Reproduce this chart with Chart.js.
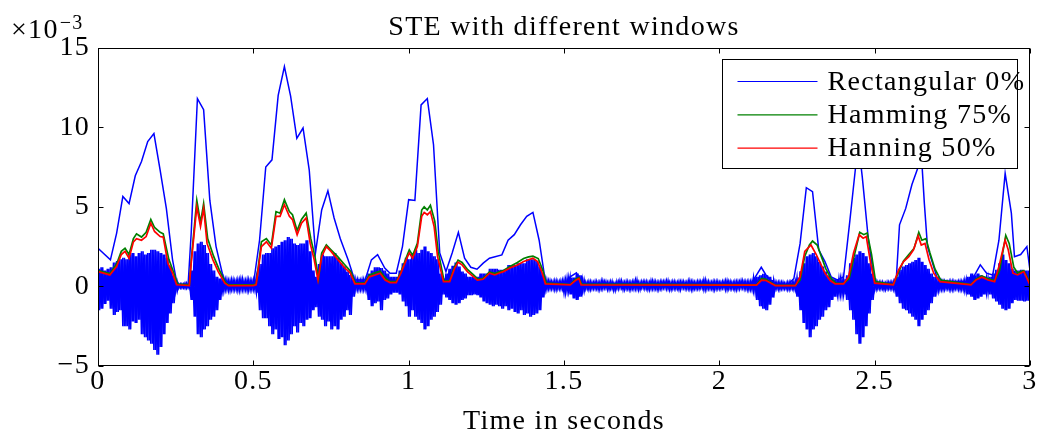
<!DOCTYPE html>
<html lang="en">
<head>
<meta charset="UTF-8">
<title>STE with different windows</title>
<script src="https://cdn.jsdelivr.net/npm/chart.js@4.4.1/dist/chart.umd.min.js"></script>
<style>
body { margin: 0; background: #fff; }
</style>
</head>
<body>
<canvas id="chart" width="1039" height="432"></canvas>
<script type="text/javascript">

// x axis ticks (seconds) and y ticks (x 10^-3)
const xTicks = [0, 0.5, 1, 1.5, 2, 2.5, 3];
const yTicks = [-5, 0, 5, 10, 15];
const seriesNames = ['Rectangular 0%', 'Hamming 75%', 'Hanning 50%'];

// STE, rectangular window, 0% overlap
const rectT = [0, 0.04, 0.06, 0.08, 0.10, 0.12, 0.14, 0.16, 0.18, 0.20, 0.22, 0.24, 0.255, 0.29, 0.30, 0.32, 0.34, 0.36, 0.38, 0.40,
  0.41, 0.50, 0.52, 0.54, 0.56, 0.58, 0.60, 0.62, 0.64, 0.66, 0.68, 0.70, 0.72, 0.74, 0.76, 0.78, 0.805, 0.826, 0.86, 0.88,
  0.90, 0.923, 0.94, 0.96, 0.98, 1.00, 1.02, 1.04, 1.06, 1.08, 1.10, 1.12, 1.14, 1.16, 1.18, 1.20, 1.22, 1.24, 1.26, 1.30,
  1.32, 1.34, 1.36, 1.38, 1.40, 1.42, 1.44, 1.51, 1.52, 1.54, 1.555, 2.10, 2.12, 2.135, 2.15, 2.18, 2.22, 2.24, 2.26, 2.28,
  2.30, 2.32, 2.34, 2.36, 2.38, 2.40, 2.42, 2.44, 2.45, 2.46, 2.48, 2.50, 2.56, 2.57, 2.58, 2.60, 2.62, 2.64, 2.65, 2.66,
  2.67, 2.70, 2.72, 2.81, 2.84, 2.86, 2.88, 2.90, 2.92, 2.94, 2.95, 2.97, 2.99, 3.00];
const rectV = [2.4, 1.67, 3.35, 5.65, 5.2, 6.95, 7.85, 9.1, 9.6, 7.3, 4.9, 1.67, 0.1, 0.1, 3.35, 11.8, 11.1, 5.4, 2.5, 0.83,
  0.2, 0.1, 2.9, 7.5, 7.95, 12.0, 13.8, 11.95, 9.3, 9.95, 7.3, 2.1, 4.8, 6.0, 4.3, 3.0, 1.67, 0.4, 0.4, 1.67,
  2.0, 1.15, 0.83, 0.83, 2.5, 5.45, 5.4, 11.4, 11.8, 8.9, 2.1, 0.93, 2.1, 3.4, 1.77, 1.2, 1.08, 1.46, 1.77, 1.98,
  2.9, 3.25, 3.87, 4.4, 4.65, 2.9, 0.3, 0.15, 0.6, 0.85, 0.2, 0.1, 0.72, 1.2, 0.72, 0.1, 0.1, 0.5, 2.7, 6.2,
  5.95, 2.3, 1.56, 0.6, 0.4, 0.6, 4.1, 7.75, 8.6, 6.9, 2.9, 0.2, 0.2, 0.6, 3.87, 4.9, 6.4, 7.5, 8.4, 5.2,
  2.5, 0.6, 0.3, 0.3, 1.35, 0.83, 0.72, 2.9, 7.1, 4.6, 1.87, 2.0, 2.5, 1.0];

// STE, Hamming window, 75% overlap
const hamT = [0, 0.038, 0.06, 0.075, 0.087, 0.10, 0.114, 0.124, 0.14, 0.155, 0.17, 0.182, 0.20, 0.21, 0.228, 0.243, 0.256, 0.294, 0.30, 0.318,
  0.33, 0.34, 0.353, 0.372, 0.39, 0.41, 0.42, 0.50, 0.509, 0.526, 0.542, 0.558, 0.573, 0.586, 0.60, 0.616, 0.626, 0.641, 0.655, 0.67,
  0.685, 0.698, 0.71, 0.72, 0.735, 0.75, 0.77, 0.797, 0.813, 0.829, 0.859, 0.873, 0.892, 0.908, 0.926, 0.94, 0.96, 0.975, 0.992, 1.002,
  1.013, 1.028, 1.042, 1.05, 1.06, 1.07, 1.084, 1.095, 1.114, 1.132, 1.147, 1.159, 1.172, 1.19, 1.207, 1.223, 1.24, 1.26, 1.277, 1.29,
  1.305, 1.326, 1.35, 1.37, 1.386, 1.40, 1.417, 1.432, 1.443, 1.52, 1.537, 1.548, 1.557, 2.12, 2.136, 2.15, 2.18, 2.245, 2.26, 2.275,
  2.29, 2.30, 2.315, 2.328, 2.343, 2.36, 2.375, 2.40, 2.418, 2.434, 2.452, 2.465, 2.476, 2.49, 2.503, 2.56, 2.577, 2.593, 2.61, 2.627,
  2.642, 2.652, 2.665, 2.678, 2.694, 2.713, 2.81, 2.826, 2.845, 2.865, 2.886, 2.902, 2.922, 2.933, 2.948, 2.96, 2.98, 3.00];
const hamV = [1.0, 0.8, 1.4, 2.2, 2.4, 2.0, 3.0, 3.3, 3.1, 3.4, 4.2, 3.7, 3.4, 3.3, 1.7, 0.9, 0.15, 0.1, 1.6, 5.4,
  4.0, 5.2, 3.0, 1.9, 1.05, 0.25, 0.1, 0.1, 0.15, 2.8, 3.0, 2.6, 4.7, 4.6, 5.45, 4.7, 4.5, 3.5, 4.2, 4.6,
  3.0, 1.9, 0.5, 2.1, 2.6, 2.3, 1.9, 1.3, 0.95, 0.2, 0.2, 0.7, 0.85, 0.95, 0.5, 0.3, 0.3, 0.9, 1.8, 2.3,
  1.95, 2.7, 4.8, 5.0, 4.8, 5.1, 4.1, 2.2, 0.35, 0.35, 1.2, 1.65, 1.5, 1.05, 0.75, 0.45, 0.5, 0.9, 0.8, 0.9,
  1.0, 1.25, 1.5, 1.75, 1.85, 1.9, 1.75, 1.0, 0.2, 0.12, 0.45, 0.55, 0.15, 0.1, 0.5, 0.45, 0.07, 0.07, 0.4, 1.9,
  2.6, 2.85, 2.6, 1.9, 1.1, 0.5, 0.2, 0.18, 0.5, 1.9, 3.4, 3.25, 3.35, 2.0, 0.3, 0.12, 0.9, 1.6, 2.0, 2.4,
  3.4, 2.9, 3.0, 2.1, 1.1, 0.4, 0.12, 0.45, 0.65, 0.5, 0.35, 1.0, 3.2, 2.7, 1.2, 0.85, 1.0, 0.2];

// STE, Hanning window, 50% overlap
const hanT = [0, 0.038, 0.06, 0.075, 0.087, 0.10, 0.114, 0.124, 0.14, 0.155, 0.17, 0.182, 0.20, 0.21, 0.225, 0.24, 0.253, 0.294, 0.30, 0.318,
  0.33, 0.34, 0.351, 0.37, 0.387, 0.408, 0.42, 0.50, 0.509, 0.526, 0.542, 0.558, 0.573, 0.586, 0.60, 0.616, 0.626, 0.641, 0.655, 0.67,
  0.683, 0.696, 0.708, 0.72, 0.735, 0.75, 0.768, 0.795, 0.811, 0.827, 0.859, 0.873, 0.892, 0.908, 0.924, 0.94, 0.96, 0.975, 0.992, 1.002,
  1.013, 1.028, 1.042, 1.05, 1.06, 1.07, 1.082, 1.093, 1.112, 1.132, 1.147, 1.159, 1.172, 1.189, 1.205, 1.221, 1.24, 1.26, 1.277, 1.29,
  1.305, 1.326, 1.35, 1.37, 1.386, 1.40, 1.415, 1.43, 1.44, 1.52, 1.537, 1.548, 1.555, 2.12, 2.136, 2.15, 2.18, 2.245, 2.26, 2.275,
  2.295, 2.312, 2.325, 2.34, 2.357, 2.373, 2.40, 2.416, 2.432, 2.45, 2.463, 2.473, 2.487, 2.50, 2.56, 2.577, 2.593, 2.61, 2.625, 2.64,
  2.65, 2.662, 2.675, 2.69, 2.71, 2.81, 2.826, 2.845, 2.865, 2.886, 2.90, 2.92, 2.93, 2.945, 2.96, 2.98, 3.00];
const hanV = [0.93, 0.72, 1.25, 2.0, 2.2, 1.77, 2.8, 3.0, 2.9, 3.13, 3.97, 3.45, 3.13, 3.1, 1.46, 0.83, 0.1, 0.05, 1.46, 5.0,
  3.76, 4.9, 2.7, 1.67, 0.93, 0.2, 0.05, 0.05, 0.1, 2.5, 2.8, 2.4, 4.4, 4.4, 5.13, 4.4, 4.2, 3.24, 3.97, 4.3,
  2.7, 1.67, 0.4, 1.87, 2.5, 2.2, 1.77, 1.15, 0.87, 0.16, 0.16, 0.6, 0.72, 0.83, 0.4, 0.24, 0.24, 0.83, 1.67, 2.1,
  1.77, 2.5, 4.4, 4.65, 4.5, 4.7, 3.76, 1.87, 0.3, 0.3, 1.08, 1.52, 1.35, 0.93, 0.66, 0.4, 0.45, 0.83, 0.72, 0.83,
  0.93, 1.15, 1.35, 1.56, 1.67, 1.77, 1.56, 0.83, 0.16, 0.1, 0.37, 0.5, 0.1, 0.08, 0.4, 0.37, 0.05, 0.05, 0.6, 2.2,
  2.6, 2.0, 1.46, 0.83, 0.37, 0.16, 0.16, 0.6, 2.1, 3.24, 3.03, 3.13, 1.46, 0.2, 0.1, 1.04, 1.56, 1.87, 2.3, 3.17,
  2.6, 2.7, 1.67, 0.83, 0.3, 0.1, 0.4, 0.58, 0.4, 0.3, 1.25, 2.9, 2.3, 0.83, 0.72, 0.93, 0.1];

// speech signal, max / min per 10 ms (x 10^-3)
const waveStep = 0.01;
const waveMax = [
  1.1, 1.2, 1.0, 1.1, 1.2, 1.5, 1.6, 1.7, 1.8, 1.7,
  2.0, 2.1, 1.9, 2.1, 2.2, 2.0, 2.1, 2.3, 2.3, 2.2,
  2.1, 2.0, 1.8, 1.3, 0.7, 0.3, 0.15, 0.15, 0.2, 0.15,
  1.0, 2.2, 2.7, 2.8, 2.6, 2.1, 1.4, 1.0, 0.6, 0.5,
  0.45, 0.4, 0.35, 0.4, 0.35, 0.4, 0.45, 0.35, 0.4, 0.35,
  0.4, 0.6, 1.4, 2.0, 2.1, 2.1, 2.4, 2.5, 2.6, 2.8,
  2.9, 3.1, 3.0, 2.7, 2.6, 2.7, 2.7, 2.9, 2.2, 1.0,
  0.6, 1.4, 2.0, 1.9, 1.9, 1.9, 2.1, 1.8, 1.45, 1.25,
  0.93, 0.72, 0.4, 0.4, 0.35, 0.4, 0.4, 0.8, 1.0, 1.2,
  1.2, 1.15, 1.0, 0.8, 0.6, 0.6, 0.6, 1.0, 1.45, 1.8,
  1.7, 2.1, 2.3, 2.1, 2.3, 2.5, 2.2, 2.1, 1.9, 1.7,
  0.8, 0.5, 0.8, 1.1, 1.3, 1.5, 1.25, 0.93, 0.8, 0.6,
  0.6, 0.55, 0.6, 0.8, 0.8, 0.8, 1.1, 1.1, 1.1, 1.05,
  1.05, 1.05, 1.35, 1.35, 1.35, 1.45, 1.45, 1.45, 1.7, 1.7,
  1.7, 1.6, 1.25, 0.7, 0.4, 0.35, 0.3, 0.35, 0.3, 0.35,
  0.4, 0.5, 0.55, 0.55, 0.8, 0.7, 0.4, 0.25, 0.3, 0.25,
  0.3, 0.25, 0.35, 0.3, 0.25, 0.3, 0.2, 0.3, 0.35, 0.25,
  0.3, 0.25, 0.3, 0.4, 0.25, 0.3, 0.3, 0.25, 0.35, 0.3,
  0.25, 0.3, 0.3, 0.35, 0.25, 0.3, 0.25, 0.3, 0.3, 0.25,
  0.35, 0.3, 0.25, 0.3, 0.3, 0.4, 0.3, 0.25, 0.3, 0.3,
  0.25, 0.3, 0.35, 0.3, 0.25, 0.3, 0.3, 0.35, 0.3, 0.3,
  0.3, 0.55, 0.6, 0.7, 0.8, 0.7, 0.6, 0.4, 0.25, 0.25,
  0.25, 0.2, 0.25, 0.25, 0.3, 0.55, 0.95, 1.45, 1.9, 2.0,
  2.1, 1.9, 1.55, 1.25, 0.93, 0.7, 0.5, 0.45, 0.45, 0.45,
  0.45, 0.7, 1.45, 1.8, 2.0, 2.2, 2.1, 1.9, 1.45, 0.8,
  0.3, 0.25, 0.25, 0.2, 0.25, 0.25, 0.3, 0.6, 1.05, 1.25,
  1.35, 1.45, 1.55, 1.65, 1.8, 1.55, 1.35, 1.1, 0.8, 0.6,
  0.4, 0.3, 0.3, 0.25, 0.3, 0.3, 0.25, 0.3, 0.3, 0.4,
  0.6, 0.8, 0.7, 0.8, 0.7, 0.6, 0.5, 0.6, 0.8, 1.05,
  1.45, 2.0, 1.65, 1.45, 1.1, 1.0, 1.0, 1.05, 1.0, 1.0,
  1.0];
const waveMin = [
  -1.5, -1.4, -1.1, -0.9, -1.4, -1.8, -1.6, -1.5, -2.5, -2.5,
  -2.7, -2.2, -2.3, -2.1, -3.0, -3.2, -3.4, -3.6, -4.0, -4.3,
  -3.8, -3.0, -2.3, -1.7, -1.05, -0.3, -0.1, -0.1, -0.12, -0.1,
  -0.85, -1.9, -3.0, -3.2, -2.7, -2.5, -2.1, -1.9, -1.5, -0.85,
  -0.3, -0.2, -0.25, -0.2, -0.2, -0.25, -0.2, -0.2, -0.25, -0.2,
  -0.2, -0.4, -1.5, -2.0, -2.0, -2.5, -3.0, -2.7, -3.3, -3.2,
  -3.7, -3.4, -3.0, -2.5, -2.9, -2.3, -2.5, -2.1, -2.0, -1.5,
  -1.3, -1.9, -2.1, -2.5, -2.2, -2.7, -2.5, -2.7, -2.1, -1.9,
  -1.5, -1.8, -0.65, -0.2, -0.2, -0.2, -0.2, -0.85, -1.25, -1.05,
  -0.95, -1.5, -0.85, -0.75, -0.5, -0.4, -0.4, -0.5, -0.95, -1.25,
  -1.9, -1.5, -1.9, -2.1, -2.3, -2.7, -2.5, -2.1, -1.9, -1.6,
  -1.15, -0.5, -0.7, -0.85, -1.05, -1.15, -1.05, -0.85, -0.75, -0.55,
  -0.55, -0.5, -0.55, -0.7, -0.95, -1.05, -1.15, -1.25, -1.15, -1.25,
  -1.4, -1.25, -1.5, -1.4, -1.6, -1.7, -1.5, -1.8, -1.7, -1.9,
  -1.8, -1.7, -1.5, -0.7, -0.2, -0.15, -0.15, -0.2, -0.15, -0.15,
  -0.4, -0.3, -0.5, -0.75, -0.85, -0.65, -0.3, -0.15, -0.2, -0.15,
  -0.15, -0.2, -0.15, -0.1, -0.2, -0.15, -0.25, -0.15, -0.1, -0.2,
  -0.15, -0.2, -0.15, -0.15, -0.2, -0.1, -0.15, -0.2, -0.15, -0.15,
  -0.2, -0.15, -0.1, -0.15, -0.2, -0.15, -0.15, -0.2, -0.1, -0.15,
  -0.15, -0.2, -0.15, -0.15, -0.1, -0.2, -0.15, -0.15, -0.2, -0.15,
  -0.15, -0.1, -0.2, -0.15, -0.15, -0.2, -0.15, -0.1, -0.15, -0.2,
  -0.2, -0.3, -0.85, -1.25, -1.4, -1.5, -1.15, -0.7, -0.15, -0.2,
  -0.15, -0.15, -0.2, -0.15, -0.2, -0.65, -1.5, -2.3, -2.7, -3.2,
  -2.7, -2.5, -2.1, -1.9, -1.5, -1.3, -0.85, -0.65, -0.5, -0.5,
  -0.5, -0.85, -1.5, -2.1, -3.0, -3.6, -3.2, -2.5, -1.7, -0.85,
  -0.2, -0.15, -0.15, -0.2, -0.15, -0.15, -0.2, -0.65, -1.05, -1.4,
  -1.5, -1.7, -1.9, -2.1, -2.5, -2.1, -1.8, -1.5, -1.05, -0.65,
  -0.3, -0.2, -0.2, -0.15, -0.2, -0.2, -0.15, -0.2, -0.2, -0.3,
  -0.5, -0.65, -0.85, -0.75, -0.65, -0.5, -0.4, -0.5, -0.75, -0.95,
  -1.15, -1.4, -1.5, -1.4, -1.05, -0.85, -0.9, -0.9, -0.95, -0.9,
  -0.9];

const FONT = "'Liberation Serif', 'Times New Roman', serif";
const SPACING = '1.3px';

function pairs(t, v) {
    return t.map((x, i) => ({x: x, y: v[i]}));
}

// trace swinging between the max and the min of each bin;
// phase 0 starts each bin at its max, phase 1 at its min
function swing(phase) {
    const out = [];
    waveMax.forEach((m, i) => {
        const a = phase ? waveMin[i] : m;
        const b = phase ? m : waveMin[i];
        out.push({x: i * waveStep, y: a});
        out.push({x: i * waveStep + waveStep / 2, y: b});
    });
    return out;
}

function minus(v) {
    return v < 0 ? '\u2212' + Math.abs(v) : String(v);
}

// box around the axes with inward ticks, matlab style
const boxPlugin = {
    id: 'box',
    beforeDraw(chart) {
        // computer modern is wider than liberation serif
        chart.ctx.letterSpacing = SPACING;
    },
    afterDatasetsDraw(chart) {
        const ctx = chart.ctx, a = chart.chartArea;
        const sx = chart.scales.x, sy = chart.scales.y;
        const L = Math.round(a.left) + 0.5, R = Math.round(a.right) - 0.5;
        const T = Math.round(a.top) + 0.5, B = Math.round(a.bottom) - 0.5;
        ctx.save();
        ctx.strokeStyle = '#000';
        ctx.lineWidth = 1;
        ctx.strokeRect(L, T, R - L, B - T);
        ctx.beginPath();
        xTicks.forEach(v => {
            const px = Math.round(sx.getPixelForValue(v)) + 0.5;
            ctx.moveTo(px, B); ctx.lineTo(px, B - 5);
            ctx.moveTo(px, T); ctx.lineTo(px, T + 5);
        });
        yTicks.forEach(v => {
            const py = Math.round(sy.getPixelForValue(v)) + 0.5;
            ctx.moveTo(L, py); ctx.lineTo(L + 5, py);
            ctx.moveTo(R, py); ctx.lineTo(R - 5, py);
        });
        ctx.stroke();
        ctx.restore();
    },
    afterDraw(chart) {
        const ctx = chart.ctx, a = chart.chartArea;
        ctx.save();
        ctx.letterSpacing = SPACING;
        // exponent of the y axis
        ctx.fillStyle = '#000';
        ctx.textBaseline = 'alphabetic';
        ctx.textAlign = 'left';
        ctx.font = '28px ' + FONT;
        ctx.fillText('\u00d710', 11, 38);
        const w = ctx.measureText('\u00d710').width;
        ctx.font = '20px ' + FONT;
        ctx.fillText('\u22123', 11 + w + 1, 29);

        // legend box, upper right inside the axes
        const bx = Math.round(a.right) - 308 + 0.5, by = Math.round(a.top) + 11 + 0.5;
        const bw = 295, bh = 109;
        ctx.fillStyle = '#fff';
        ctx.fillRect(bx, by, bw, bh);
        ctx.strokeStyle = '#000';
        ctx.lineWidth = 1;
        ctx.strokeRect(bx, by, bw, bh);
        const colors = ['#0000ff', '#008000', '#ff0000'];
        ctx.font = '28px ' + FONT;
        ctx.textBaseline = 'middle';
        seriesNames.forEach((name, i) => {
            const y = by + 22 + i * 33.3;
            ctx.strokeStyle = colors[i];
            ctx.lineWidth = 1.2;
            ctx.beginPath();
            ctx.moveTo(bx + 15, y);
            ctx.lineTo(bx + 95, y);
            ctx.stroke();
            ctx.fillStyle = '#000';
            ctx.fillText(name, bx + 105, y + 1);
        });
        ctx.restore();
    }
};

const config = {
    type: 'line',
    data: {
        datasets: [
            {label: seriesNames[2], data: pairs(hanT, hanV), borderColor: '#ff0000', borderWidth: 1.7},
            {label: seriesNames[1], data: pairs(hamT, hamV), borderColor: '#008000', borderWidth: 1.7},
            {label: seriesNames[0], data: pairs(rectT, rectV), borderColor: '#0000ff', borderWidth: 1.5},
            {label: 'signal a', data: swing(0), borderColor: '#0000ff', borderWidth: 1.6,
             fill: 'origin', backgroundColor: '#0000ff'},
            {label: 'signal b', data: swing(1), borderColor: '#0000ff', borderWidth: 1.6,
             fill: 'origin', backgroundColor: '#0000ff'}
        ]
    },
    options: {
        responsive: false,
        animation: false,
        events: [],
        elements: {
            point: {radius: 0},
            line: {tension: 0, fill: false}
        },
        layout: {padding: {left: 0, right: 9, top: 0, bottom: 0}},
        plugins: {
            legend: {display: false},
            tooltip: {enabled: false},
            filler: {propagate: false},
            title: {
                display: true,
                text: 'STE with different windows',
                fullSize: false,
                color: '#000',
                font: {family: FONT, size: 28, weight: 'normal', lineHeight: 1.2},
                padding: {top: 11, bottom: 3}
            }
        },
        scales: {
            x: {
                type: 'linear',
                min: 0,
                max: 3,
                grid: {display: false, drawTicks: false},
                border: {display: false},
                afterBuildTicks: s => { s.ticks = xTicks.map(v => ({value: v})); },
                afterFit: s => { s.height = 66; },
                ticks: {
                    color: '#000',
                    padding: 2,
                    maxRotation: 0,
                    font: {family: FONT, size: 28, lineHeight: 1},
                    callback: v => String(v)
                },
                title: {
                    display: true,
                    text: 'Time in seconds',
                    color: '#000',
                    font: {family: FONT, size: 28, lineHeight: 0.75},
                    padding: {top: 0, bottom: 0}
                }
            },
            y: {
                type: 'linear',
                min: -5,
                max: 15,
                grid: {display: false, drawTicks: false},
                border: {display: false},
                afterBuildTicks: s => { s.ticks = yTicks.map(v => ({value: v})); },
                afterFit: s => { s.width = 98; },
                ticks: {
                    color: '#000',
                    padding: 8,
                    font: {family: FONT, size: 28, lineHeight: 1},
                    callback: v => minus(v)
                }
            }
        }
    },
    plugins: [boxPlugin]
};

var myChart = new Chart(document.getElementById('chart'), config);
</script>
</body>
</html>
